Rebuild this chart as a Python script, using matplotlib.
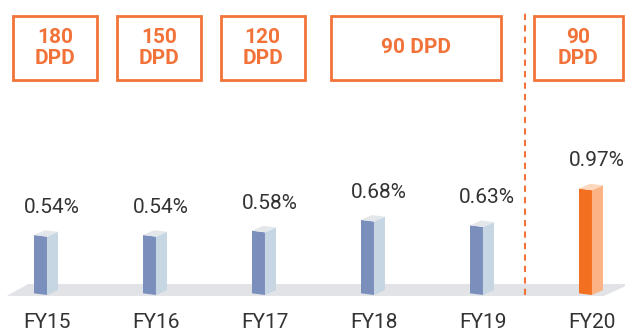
import matplotlib
matplotlib.use("Agg")
import matplotlib.pyplot as plt
from matplotlib.patches import Polygon, Rectangle

plt.rcParams['font.family'] = ['Roboto', 'DejaVu Sans']

# GNPA ratio by year
years = ['FY15', 'FY16', 'FY17', 'FY18', 'FY19', 'FY20']
gnpa = [0.54, 0.54, 0.58, 0.68, 0.63, 0.97]
dpd_labels = ['180\nDPD', '150\nDPD', '120\nDPD', '90 DPD', '90\nDPD']

# box extents along x (data units) for each recognition norm
box_spans = [(-0.312, 0.459), (-0.312, 0.459), (-0.312, 0.459), (2.606, 4.165), (4.468, 5.282)]
box_offsets = [0, 1, 2, 0, 0]

blue = ('#7B8FBD', '#C6D6E2', '#E4E7EA')
orange = ('#F37021', '#FBB285', '#FDD8BE')
accent = '#F2733A'

fig = plt.figure(figsize=(6.25, 3.29), dpi=100)
ax = fig.add_axes([0, 0, 1, 1])
ax.set_xlim(-0.431, 5.303)
ax.set_ylim(-0.315, 2.731)
ax.axis('off')

# floor band
ax.add_patch(Polygon([(-0.37, -0.009), (-0.17, 0.102), (5.35, 0.102), (5.11, -0.009)],
                     closed=True, facecolor='#E1E3E6', edgecolor='none', zorder=1))

fw, sw = 0.119, 0.101      # front / side widths
fs, ss = 0.015, 0.045      # front / side slant
for i, (yr, v) in enumerate(zip(years, gnpa)):
    front, side, top = orange if yr == 'FY20' else blue
    xl, xm, xr = i - fw, i, i + sw
    ax.add_patch(Polygon([(xl, fs), (xm, 0), (xm, v), (xl, v + fs)],
                         facecolor=front, edgecolor='none', zorder=3))
    ax.add_patch(Polygon([(xm, 0), (xr, ss), (xr, v + ss), (xm, v)],
                         facecolor=side, edgecolor='none', zorder=3))
    ax.add_patch(Polygon([(xl, v + fs), (xm, v), (xr, v + ss), (xl + sw, v + fs + ss)],
                         facecolor=top, edgecolor='none', zorder=3))
    ax.text(i + 0.04, v + 0.22, f'{v:.2f}%', ha='center', va='baseline',
            fontsize=15, color='#333333')
    ax.text(i, -0.305, yr, ha='center', va='baseline', fontsize=15, color='#333333')

# divider before FY20
ax.plot([4.385, 4.385], [0, 2.65], color=accent, lw=1.5, ls=(0, (3, 2.5)), zorder=2)

# DPD norm boxes
for lab, (x0, x1), off in zip(dpd_labels, box_spans, box_offsets):
    x0 += off * 0.952
    x1 += off * 0.952
    ax.add_patch(Rectangle((x0, 1.991), x1 - x0, 0.592, facecolor='none',
                           edgecolor=accent, lw=2, zorder=4, clip_on=True))
    ax.text((x0 + x1) / 2, 2.287, lab, ha='center', va='center', fontsize=15,
            fontweight='bold', color=accent, linespacing=1.15)

fig.savefig('out.png', dpi=100)
